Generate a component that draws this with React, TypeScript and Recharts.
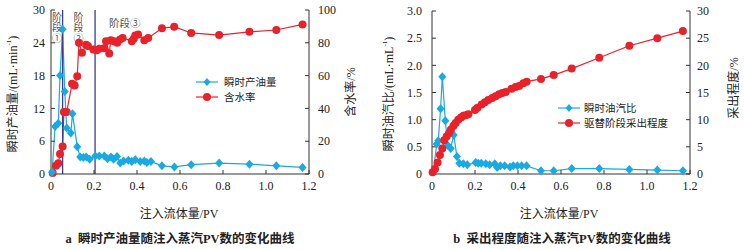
import React from "react";
import { ComposedChart, Line, XAxis, YAxis, ReferenceLine, Legend, Label } from "recharts";

// shared x axis: injected fluid volume (PV)
const pvTicks = [0, 0.2, 0.4, 0.6, 0.8, 1.0, 1.2];

// chart a
const oilRateTicks = [0, 6, 12, 18, 24, 30];
const waterCutTicks = [0, 20, 40, 60, 80, 100];
const stageBounds = [0.054, 0.205];
const stageNames = ["阶段①", "阶段②", "阶段③"];

const oilRatePV = [0.005, 0.019, 0.034, 0.042, 0.054, 0.064, 0.073, 0.092, 0.1, 0.122, 0.136, 0.15, 0.164, 0.18, 0.206, 0.225, 0.248, 0.263, 0.279, 0.291, 0.307, 0.322, 0.338, 0.36, 0.376, 0.392, 0.415, 0.434, 0.446, 0.465, 0.516, 0.574, 0.652, 0.782, 0.923, 1.048, 1.17];
const oilRate = [0.3, 8.7, 9.3, 18.0, 26.5, 15.1, 8.4, 7.5, 11.0, 5.0, 3.1, 3.0, 3.1, 2.7, 3.3, 3.3, 3.3, 2.8, 3.1, 2.7, 3.2, 2.0, 2.4, 2.5, 2.3, 2.6, 2.3, 2.4, 2.1, 2.3, 1.5, 1.3, 1.7, 2.0, 1.8, 1.5, 1.2];

const waterCutPV = [0.008, 0.023, 0.034, 0.042, 0.054, 0.06, 0.073, 0.098, 0.11, 0.122, 0.13, 0.144, 0.163, 0.172, 0.197, 0.212, 0.225, 0.247, 0.256, 0.271, 0.278, 0.293, 0.308, 0.321, 0.333, 0.376, 0.385, 0.392, 0.405, 0.434, 0.452, 0.516, 0.573, 0.652, 0.782, 0.923, 1.048, 1.17];
const waterCut = [0.6, 5, 6.5, 12.2, 16.7, 37.8, 37.8, 55, 54, 59.6, 80, 73.9, 78.8, 78, 75.9, 75.5, 76.3, 76.7, 81, 73.5, 81.6, 81, 80, 82, 83, 81, 82.5, 84.5, 85, 81.6, 83, 88.8, 89.8, 86, 84.7, 86.7, 87.8, 91.2];

// chart b
const osrTicks = [0, 0.5, 1.0, 1.5, 2.0, 2.5, 3.0];
const recoveryTicks = [0, 5, 10, 15, 20, 25, 30];

const osrPV = [0.006, 0.022, 0.029, 0.04, 0.048, 0.062, 0.073, 0.087, 0.101, 0.116, 0.127, 0.146, 0.164, 0.203, 0.215, 0.229, 0.25, 0.268, 0.292, 0.303, 0.318, 0.338, 0.363, 0.378, 0.397, 0.417, 0.44, 0.507, 0.566, 0.65, 0.778, 0.918, 1.048, 1.167];
const osr = [0.04, 0.55, 0.61, 1.2, 1.79, 0.98, 0.53, 0.47, 0.72, 0.32, 0.2, 0.19, 0.17, 0.21, 0.2, 0.2, 0.19, 0.17, 0.19, 0.12, 0.15, 0.15, 0.13, 0.15, 0.15, 0.15, 0.15, 0.06, 0.06, 0.1, 0.1, 0.085, 0.073, 0.06];

const recoveryPV = [0.003, 0.014, 0.026, 0.037, 0.048, 0.057, 0.068, 0.079, 0.088, 0.1, 0.11, 0.122, 0.135, 0.146, 0.157, 0.169, 0.2, 0.212, 0.231, 0.246, 0.262, 0.28, 0.296, 0.312, 0.327, 0.343, 0.37, 0.389, 0.405, 0.425, 0.44, 0.507, 0.566, 0.65, 0.778, 0.918, 1.048, 1.167];
const recovery = [0.3, 0.9, 2.1, 3.5, 4.7, 6.2, 6.9, 7.5, 8.2, 8.9, 9.4, 10, 10.4, 10.7, 10.8, 11.0, 11.8, 12.2, 12.8, 13.2, 13.6, 14.0, 14.3, 14.7, 14.9, 15.1, 15.7, 16.0, 16.2, 16.7, 17.0, 17.5, 18.2, 19.4, 21.4, 23.6, 25.0, 26.3];

const zip = (xs: number[], ys: number[]) => xs.map((x, i) => ({ x, y: ys[i] }));

const BLUE = "#19a9e3";
const RED = "#e8222b";
const AXIS = "#333";
const FONT = "'Liberation Serif', 'Noto Sans CJK SC', serif";

const fmt1 = (v: number) => (v === 0 ? "0" : v.toFixed(1));

const Diamond = (p: any) => {
  const { cx, cy } = p;
  if (cx == null || cy == null) return null;
  return <polygon points={`${cx},${cy - 4.5} ${cx + 4},${cy} ${cx},${cy + 4.5} ${cx - 4},${cy}`} fill={BLUE} />;
};

const tickStyle = { fontSize: 12, fill: "#222", fontFamily: FONT };

const VTitle = ({ x, y, main, unit }: { x: number; y: number; main: string; unit?: string }) => (
  <text x={x} y={y} transform={`rotate(-90 ${x} ${y})`} textAnchor="middle" dominantBaseline="central" fontSize={12} fill="#222" fontFamily={FONT}>
    {main}
    {unit ? (
      <>
        <tspan>{unit}</tspan>
        <tspan fontSize={7} dy={-4}>-1</tspan>
        <tspan dy={4}>)</tspan>
      </>
    ) : null}
  </text>
);

const legendContent = (items: { name: string; color: string; diamond: boolean }[], gap: number) => () => (
  <div style={{ fontFamily: FONT, fontSize: 10.5, color: "#222" }}>
    {items.map((it) => (
      <div key={it.name} style={{ display: "flex", alignItems: "center", height: 15 }}>
        <svg width={22} height={10}>
          <line x1={0} y1={5} x2={22} y2={5} stroke={it.color} strokeWidth={1.2} />
          {it.diamond ? (
            <polygon points="11,1 14.5,5 11,9 7.5,5" fill={it.color} />
          ) : (
            <circle cx={11} cy={5} r={4} fill={it.color} />
          )}
        </svg>
        <span style={{ marginLeft: gap }}>{it.name}</span>
      </div>
    ))}
  </div>
);

const stageLabel = (which: number) => (p: any) => {
  const vb = p.viewBox || {};
  const lx = vb.x ?? 0;
  const color = "#5a5050";
  if (which === 0) {
    const cols = [lx - 5.5, lx + 16];
    return (
      <g fontSize={10} fill={color} fontFamily={FONT} textAnchor="middle" dominantBaseline="central">
        {[0, 1].map((k) =>
          [...stageNames[k]].map((ch, j) => (
            <text key={`${k}-${j}`} x={cols[k]} y={17 + j * 10.5}>{ch}</text>
          ))
        )}
      </g>
    );
  }
  return (
    <text x={lx + 14} y={23} fontSize={10.5} fill={color} fontFamily={FONT} dominantBaseline="central">{stageNames[2]}</text>
  );
};

function ChartA() {
  return (
    <ComposedChart width={372} height={200} margin={{ top: 10, right: 0, bottom: 0, left: 0 }}>
      <XAxis type="number" dataKey="x" domain={[0, 1.2]} ticks={pvTicks} interval={0} tickFormatter={fmt1} height={26} tickSize={-4} tickMargin={11} stroke={AXIS} tick={tickStyle} allowDuplicatedCategory={false} />
      <XAxis xAxisId="t" type="number" orientation="top" domain={[0, 1.2]} height={0} tick={false} tickLine={false} stroke={AXIS} />
      <YAxis yAxisId="l" domain={[0, 30]} ticks={oilRateTicks} interval={0} width={51} tickSize={-4} tickMargin={10} stroke={AXIS} tick={tickStyle}>
        <Label content={() => <VTitle x={13} y={94} main="瞬时产油量/" unit="(mL·min" />} />
      </YAxis>
      <YAxis yAxisId="r" orientation="right" domain={[0, 100]} ticks={waterCutTicks} interval={0} width={63} tickSize={-4} tickMargin={13} stroke={AXIS} tick={{ ...tickStyle, textAnchor: "start" }}>
        <Label content={() => <VTitle x={351} y={92} main="含水率/%" />} />
      </YAxis>
      <Legend layout="vertical" align="center" verticalAlign="middle" wrapperStyle={{ left: 196, top: 74, width: 110 }}
        content={legendContent([{ name: "瞬时产油量", color: BLUE, diamond: true }, { name: "含水率", color: RED, diamond: false }], 6)} />
      <Line yAxisId="r" data={zip(waterCutPV, waterCut)} dataKey="y" name="含水率" stroke={RED} strokeWidth={1.2} dot={{ r: 4, fill: RED, stroke: "none" }} isAnimationActive={false} />
      <Line yAxisId="l" data={zip(oilRatePV, oilRate)} dataKey="y" name="瞬时产油量" stroke={BLUE} strokeWidth={1.2} dot={(p: any) => <Diamond key={p.index} {...p} />} isAnimationActive={false} />
      <ReferenceLine yAxisId="l" x={stageBounds[0]} stroke="#3c3c8e" strokeWidth={1.3} label={stageLabel(0)} />
      <ReferenceLine yAxisId="l" x={stageBounds[1]} stroke="#3c3c8e" strokeWidth={1.3} label={stageLabel(1)} />
    </ComposedChart>
  );
}

function ChartB() {
  return (
    <ComposedChart width={372} height={200} margin={{ top: 11, right: 0, bottom: 0, left: 0 }}>
      <XAxis type="number" dataKey="x" domain={[0, 1.2]} ticks={pvTicks} interval={0} tickFormatter={fmt1} height={26} tickSize={-4} tickMargin={11} stroke={AXIS} tick={tickStyle} allowDuplicatedCategory={false} />
      <XAxis xAxisId="t" type="number" orientation="top" domain={[0, 1.2]} height={0} tick={false} tickLine={false} stroke={AXIS} />
      <YAxis yAxisId="l" domain={[0, 3]} ticks={osrTicks} interval={0} tickFormatter={fmt1} width={60} tickSize={-4} tickMargin={14} stroke={AXIS} tick={tickStyle}>
        <Label content={() => <VTitle x={17} y={94} main="瞬时油汽比/" unit="(mL·mL" />} />
      </YAxis>
      <YAxis yAxisId="r" orientation="right" domain={[0, 30]} ticks={recoveryTicks} interval={0} width={54} tickSize={-4} tickMargin={11} stroke={AXIS} tick={{ ...tickStyle, textAnchor: "start" }}>
        <Label content={() => <VTitle x={362} y={88} main="采出程度/%" />} />
      </YAxis>
      <Legend layout="vertical" align="center" verticalAlign="middle" wrapperStyle={{ left: 186, top: 100, width: 130 }}
        content={legendContent([{ name: "瞬时油汽比", color: BLUE, diamond: true }, { name: "驱替阶段采出程度", color: RED, diamond: false }], 4)} />
      <Line yAxisId="l" data={zip(osrPV, osr)} dataKey="y" name="瞬时油汽比" stroke={BLUE} strokeWidth={1.2} dot={(p: any) => <Diamond key={p.index} {...p} />} isAnimationActive={false} />
      <Line yAxisId="r" data={zip(recoveryPV, recovery)} dataKey="y" name="驱替阶段采出程度" stroke={RED} strokeWidth={1.2} dot={{ r: 4, fill: RED, stroke: "none" }} isAnimationActive={false} />
    </ComposedChart>
  );
}

const xTitle = "注入流体量/PV";

export default function App() {
  const cap: React.CSSProperties = { position: "absolute", top: 228, width: 372, textAlign: "center", fontFamily: FONT, fontSize: 12.5, fontWeight: "bold", color: "#222" };
  const xt: React.CSSProperties = { position: "absolute", top: 204, width: 372, textAlign: "center", fontFamily: FONT, fontSize: 12, color: "#222" };
  return (
    <div style={{ position: "absolute", left: 0, top: 0, width: 744, height: 250, background: "#fff", overflow: "hidden" }}>
      <div style={{ position: "absolute", left: 0, top: 0 }}><ChartA /></div>
      <div style={{ position: "absolute", left: 372, top: 0 }}><ChartB /></div>
      <div style={{ ...xt, left: 0, width: 358 }}>{xTitle}</div>
      <div style={{ ...xt, left: 372, width: 374 }}>{xTitle}</div>
      <div style={{ ...cap, left: 0, width: 360 }}>a&nbsp;&nbsp;瞬时产油量随注入蒸汽PV数的变化曲线</div>
      <div style={{ ...cap, left: 372, width: 380 }}>b&nbsp;&nbsp;采出程度随注入蒸汽PV数的变化曲线</div>
    </div>
  );
}
